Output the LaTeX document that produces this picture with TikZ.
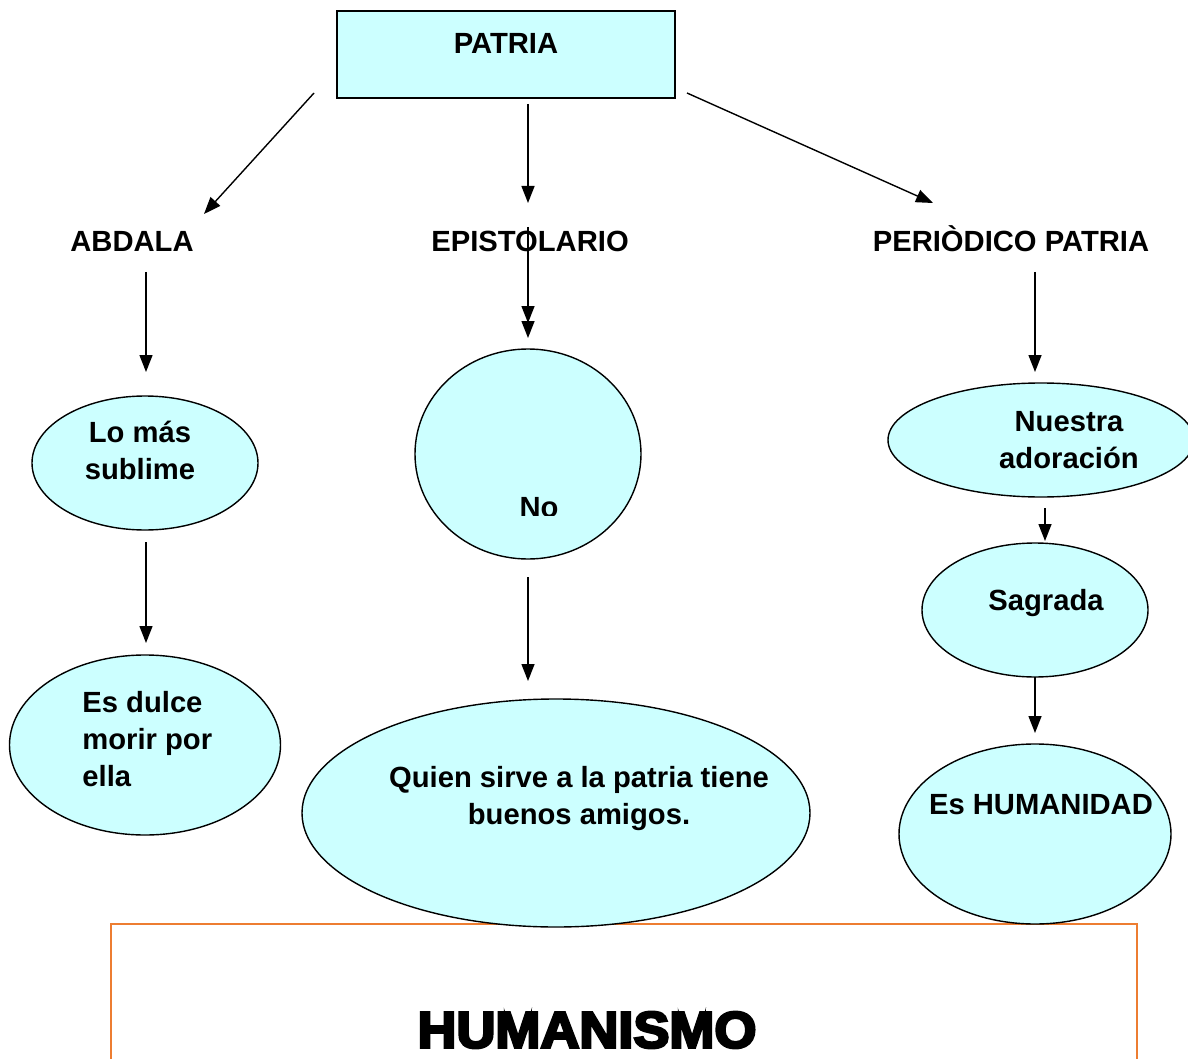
\documentclass[tikz,border=0pt]{standalone}
\usepackage{fontspec}
\setmainfont{Liberation Sans}
\newfontfamily\gruesa[FakeBold=5]{Liberation Sans}
\usetikzlibrary{arrows.meta}
\usetikzlibrary{shapes.geometric}

\definecolor{celeste}{RGB}{204,255,255}
\definecolor{naranja}{RGB}{237,125,49}

\tikzset{
  burbuja/.style={draw, ellipse, fill=celeste, line width=0.7pt, inner sep=0},
  texto/.style={font=\bfseries\fontsize{14.6}{18.5}\selectfont, inner sep=0, align=center},
  flecha/.style={-{Triangle[length=8.5pt,width=6.5pt]}, line width=0.7pt}
}

\begin{document}
\begin{tikzpicture}[x=0.5pt,y=-0.5pt]
  \clip (0,0) rectangle (1188,1059);
  \fill[white] (0,0) rectangle (1188,1059);

  % caja de abajo
  \node[draw=naranja, line width=1.3pt, minimum width=513pt, minimum height=93pt, inner sep=0] (caja) at (624,1017) {};
  \node[font=\gruesa\bfseries\fontsize{27}{30}\selectfont, inner sep=0, yscale=0.95] (humanismo) at (587,1030) {HUMANISMO};

  % raiz
  \node[draw, fill=celeste, line width=0.7pt, minimum width=169pt, minimum height=43.5pt, inner sep=0] (patria) at (506,54.5) {};
  \node[texto] (ptxt) at (506,43) {PATRIA};

  % titulos
  \node[texto] (abdala) at (132,241) {ABDALA};
  \node[texto] (epist) at (530,241) {EPISTOLARIO};
  \node[texto] (perio) at (1011,239) {PERIÒDICO PATRIA};

  % burbujas
  \node[burbuja, minimum width=113pt, minimum height=67pt] (sublime) at (145,463) {};
  \node[burbuja, minimum width=135.5pt, minimum height=90pt] (dulce) at (145,745) {};
  \node[burbuja, minimum width=113pt, minimum height=105pt] (no) at (528,454) {};
  \node[burbuja, minimum width=254pt, minimum height=114pt] (quien) at (556,813) {};
  \node[burbuja, minimum width=153pt, minimum height=57pt] (nuestra) at (1041,440) {};
  \node[burbuja, minimum width=113pt, minimum height=67pt] (sagrada) at (1035,610) {};
  \node[burbuja, minimum width=136pt, minimum height=90pt] (humanidad) at (1035,834) {};

  \node[texto] (tsublime) at (140,450) {Lo más\\sublime};
  \node[texto, align=left, anchor=west] (tdulce) at (82,739) {Es dulce\\morir por\\ella};
  \begin{scope}
    \clip (480,480) rectangle (600,515);
    \node[texto] (tno) at (539,508) {No};
  \end{scope}
  \node[texto] (tquien) at (579,799) {Quien sirve a la patria tiene\\buenos amigos.};
  \node[texto] (tnuestra) at (1069,440) {Nuestra\\adoración};
  \node[texto] (tsagrada) at (1046,603) {Sagrada};
  \node[texto] (thumanidad) at (1041,805) {Es HUMANIDAD};

  % puntas de las flechas
  \coordinate (a1) at (314,93);   \coordinate (b1) at (204,214);
  \coordinate (a2) at (528,104);  \coordinate (b2) at (528,203);
  \coordinate (a3) at (687,93);   \coordinate (b3) at (933,203);
  \coordinate (a4) at (146,272);  \coordinate (b4) at (146,372);
  \coordinate (a5) at (528,227);  \coordinate (b5) at (528,338);
  \coordinate (a6) at (528,272);  \coordinate (b6) at (528,323);
  \coordinate (a7) at (1035,272); \coordinate (b7) at (1035,372);
  \coordinate (a8) at (146,542);  \coordinate (b8) at (146,643);
  \coordinate (a9) at (528,577);  \coordinate (b9) at (528,681);
  \coordinate (a10) at (1045,508); \coordinate (b10) at (1045,541);
  \coordinate (a11) at (1035,677); \coordinate (b11) at (1035,733);

  \foreach \i in {1,...,11}
    \draw[flecha] (a\i) -- (b\i);
\end{tikzpicture}
\end{document}
